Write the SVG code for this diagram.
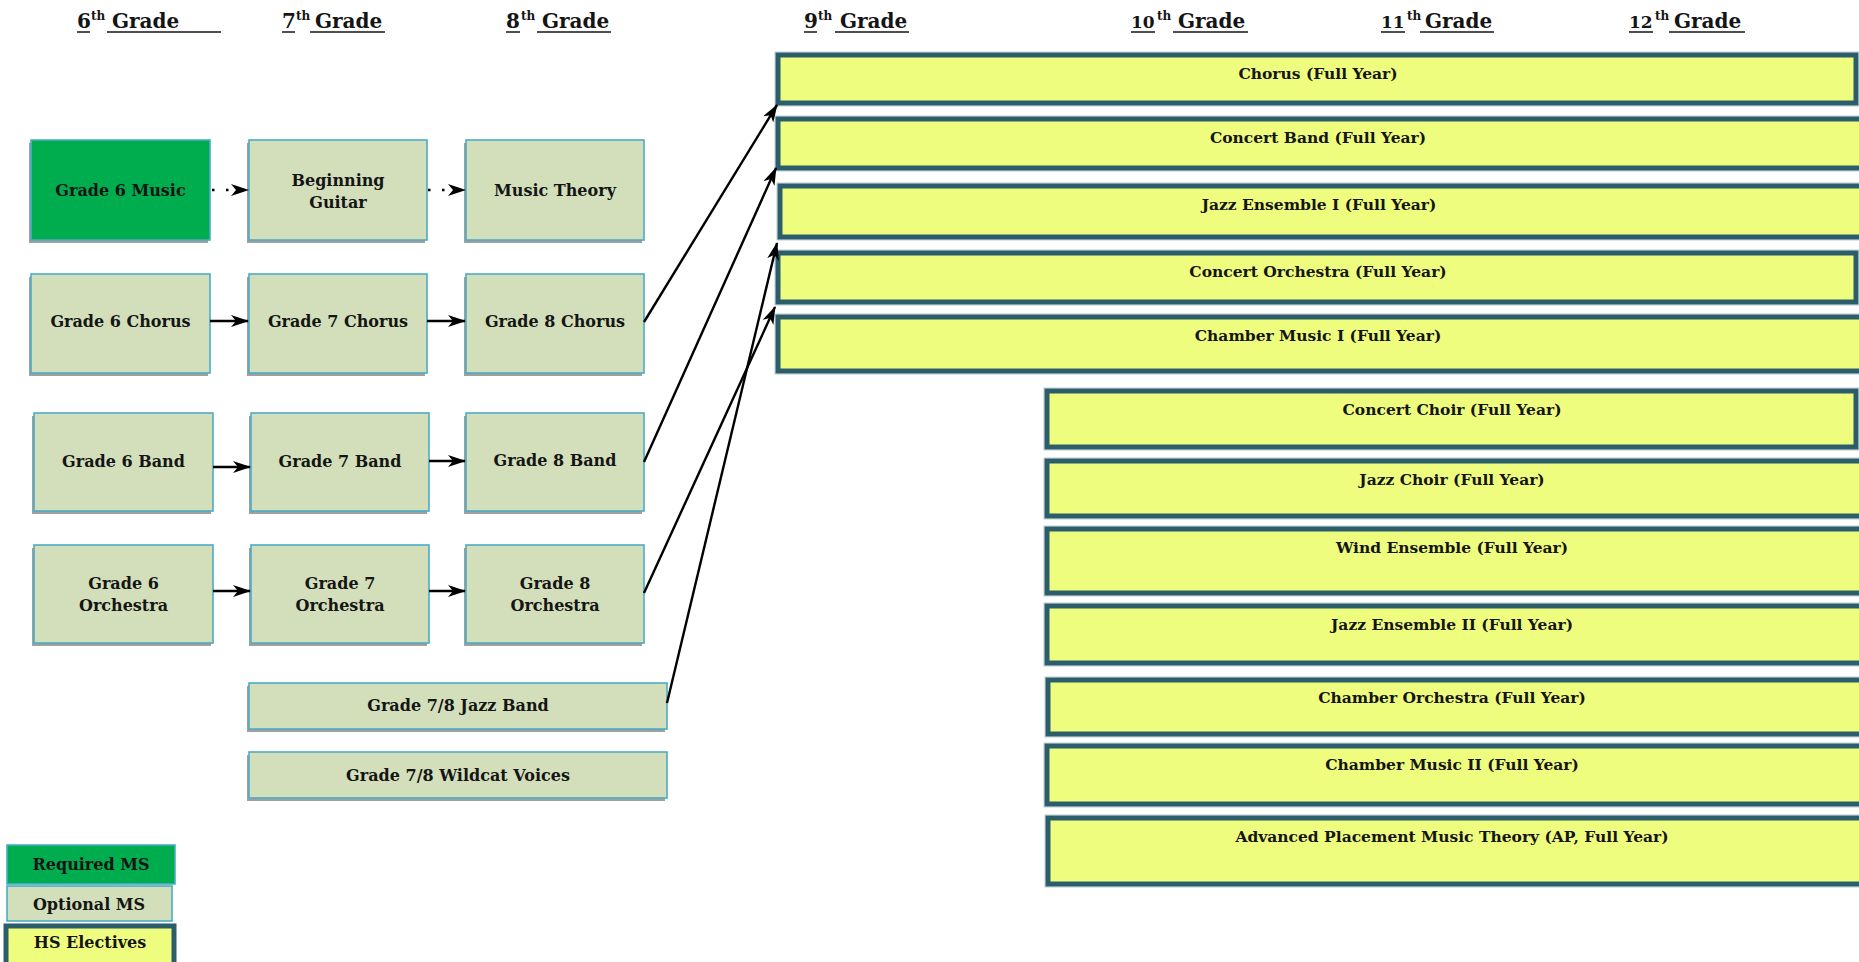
<svg xmlns="http://www.w3.org/2000/svg" width="1859" height="962" viewBox="0 0 1859 962">
<defs>
<style>
.t{font-family:"DejaVu Serif","Liberation Serif",serif;font-weight:bold;fill:#151515;}
.ms{font-size:16px;text-anchor:middle;}
.hs{font-size:15.5px;text-anchor:middle;}
.hd{font-size:20px;}
.hd2{font-size:17px;}
.sup{font-size:12px;}
.ul{stroke:#151515;stroke-width:1.5;}
.sh{fill:#a0a0a0;}
.opt{fill:#d3dfba;stroke:#4bacc6;stroke-width:1.6;}
.req{fill:#00ad4e;stroke:#4bacc6;stroke-width:1.6;}
.hsb{fill:#effd7e;stroke:#2b5d6b;stroke-width:5;}
.halo{fill:none;stroke:#b9ccd2;stroke-width:1;}
.con{stroke:#000;stroke-width:2.4;fill:none;marker-end:url(#ah);}
.dot{stroke:#000;stroke-width:2.6;fill:none;stroke-dasharray:2.5 11.5;marker-end:url(#ah);}
</style>
<marker id="ah" markerUnits="userSpaceOnUse" viewBox="0 0 18 12" markerWidth="18" markerHeight="12" refX="17" refY="6" orient="auto">
<path d="M0,0 L18,6 L0,12 L5,6 Z" fill="#000"/>
</marker>
</defs>
<rect width="1859" height="962" fill="#fff"/>

<g id="headers">
<text class="t hd" y="28"><tspan x="77">6</tspan><tspan class="sup" x="91" y="20">th</tspan><tspan x="112" y="28">Grade</tspan></text>
<line class="ul" x1="77" y1="32" x2="90" y2="32"/><line class="ul" x1="107" y1="32" x2="221" y2="32"/>
<text class="t hd" y="28"><tspan x="282">7</tspan><tspan class="sup" x="296" y="20">th</tspan><tspan x="315" y="28">Grade</tspan></text>
<line class="ul" x1="282" y1="32" x2="295" y2="32"/><line class="ul" x1="310" y1="32" x2="385" y2="32"/>
<text class="t hd" y="28"><tspan x="506">8</tspan><tspan class="sup" x="521" y="20">th</tspan><tspan x="542" y="28">Grade</tspan></text>
<line class="ul" x1="506" y1="32" x2="520" y2="32"/><line class="ul" x1="537" y1="32" x2="611" y2="32"/>
<text class="t hd" y="28"><tspan x="804">9</tspan><tspan class="sup" x="818" y="20">th</tspan><tspan x="840" y="28">Grade</tspan></text>
<line class="ul" x1="804" y1="32" x2="817" y2="32"/><line class="ul" x1="835" y1="32" x2="909" y2="32"/>
<text class="t hd2" x="1131" y="28">10</text>
<text class="t sup" x="1157" y="20">th</text>
<text class="t hd" x="1178" y="28">Grade</text>
<line class="ul" x1="1131" y1="32" x2="1155" y2="32"/><line class="ul" x1="1173" y1="32" x2="1248" y2="32"/>
<text class="t hd2" x="1381" y="28">11</text>
<text class="t sup" x="1407" y="20">th</text>
<text class="t hd" x="1425" y="28">Grade</text>
<line class="ul" x1="1381" y1="32" x2="1405" y2="32"/><line class="ul" x1="1420" y1="32" x2="1494" y2="32"/>
<text class="t hd2" x="1629" y="28">12</text>
<text class="t sup" x="1655" y="20">th</text>
<text class="t hd" x="1674" y="28">Grade</text>
<line class="ul" x1="1629" y1="32" x2="1653" y2="32"/><line class="ul" x1="1669" y1="32" x2="1745" y2="32"/>
</g>

<g id="n-g6music"><rect class="sh" x="29" y="143" width="179" height="100"/><rect class="req" x="31" y="140" width="179" height="100"/><text class="t ms" x="120.5" y="196">Grade 6 Music</text></g>
<g id="n-guitar"><rect class="sh" x="247" y="143" width="178" height="100"/><rect class="opt" x="249" y="140" width="178" height="100"/><text class="t ms" x="338" y="186">Beginning</text><text class="t ms" x="338" y="208">Guitar</text></g>
<g id="n-theory"><rect class="sh" x="464" y="143" width="178" height="100"/><rect class="opt" x="466" y="140" width="178" height="100"/><text class="t ms" x="555" y="196">Music Theory</text></g>

<g id="n-g6chorus"><rect class="sh" x="29" y="277" width="179" height="99"/><rect class="opt" x="31" y="274" width="179" height="99"/><text class="t ms" x="120.5" y="327">Grade 6 Chorus</text></g>
<g id="n-g7chorus"><rect class="sh" x="247" y="277" width="178" height="99"/><rect class="opt" x="249" y="274" width="178" height="99"/><text class="t ms" x="338" y="327">Grade 7 Chorus</text></g>
<g id="n-g8chorus"><rect class="sh" x="464" y="277" width="178" height="99"/><rect class="opt" x="466" y="274" width="178" height="99"/><text class="t ms" x="555" y="327">Grade 8 Chorus</text></g>

<g id="n-g6band"><rect class="sh" x="32" y="416" width="179" height="98"/><rect class="opt" x="34" y="413" width="179" height="98"/><text class="t ms" x="123.5" y="467">Grade 6 Band</text></g>
<g id="n-g7band"><rect class="sh" x="249" y="416" width="178" height="98"/><rect class="opt" x="251" y="413" width="178" height="98"/><text class="t ms" x="340" y="467">Grade 7 Band</text></g>
<g id="n-g8band"><rect class="sh" x="464" y="416" width="178" height="98"/><rect class="opt" x="466" y="413" width="178" height="98"/><text class="t ms" x="555" y="466">Grade 8 Band</text></g>

<g id="n-g6orch"><rect class="sh" x="32" y="548" width="179" height="98"/><rect class="opt" x="34" y="545" width="179" height="98"/><text class="t ms" x="123.5" y="589">Grade 6</text><text class="t ms" x="123.5" y="611">Orchestra</text></g>
<g id="n-g7orch"><rect class="sh" x="249" y="548" width="178" height="98"/><rect class="opt" x="251" y="545" width="178" height="98"/><text class="t ms" x="340" y="589">Grade 7</text><text class="t ms" x="340" y="611">Orchestra</text></g>
<g id="n-g8orch"><rect class="sh" x="464" y="548" width="178" height="98"/><rect class="opt" x="466" y="545" width="178" height="98"/><text class="t ms" x="555" y="589">Grade 8</text><text class="t ms" x="555" y="611">Orchestra</text></g>

<g id="n-jazzband"><rect class="sh" x="247" y="686" width="418" height="46"/><rect class="opt" x="249" y="683" width="418" height="46"/><text class="t ms" x="458" y="711">Grade 7/8 Jazz Band</text></g>
<g id="n-wildcat"><rect class="sh" x="247" y="755" width="418" height="46"/><rect class="opt" x="249" y="752" width="418" height="46"/><text class="t ms" x="458" y="781">Grade 7/8 Wildcat Voices</text></g>

<g id="n-hs-chorus"><rect class="halo" x="775" y="52" width="1090" height="54"/><rect class="hsb" x="778" y="55" width="1078" height="48"/><text class="t hs" x="1318" y="79">Chorus (Full Year)</text></g>
<g id="n-hs-concertband"><rect class="halo" x="775" y="116" width="1090" height="55"/><rect class="hsb" x="778" y="119" width="1084" height="49"/><text class="t hs" x="1318" y="143">Concert Band (Full Year)</text></g>
<g id="n-hs-jazz1"><rect class="halo" x="777" y="183" width="1090" height="57"/><rect class="hsb" x="780" y="186" width="1084" height="51"/><text class="t hs" x="1319" y="210">Jazz Ensemble I (Full Year)</text></g>
<g id="n-hs-concertorch"><rect class="halo" x="775" y="250" width="1090" height="55"/><rect class="hsb" x="778" y="253" width="1078" height="49"/><text class="t hs" x="1318" y="277">Concert Orchestra (Full Year)</text></g>
<g id="n-hs-chamber1"><rect class="halo" x="775" y="314" width="1090" height="60"/><rect class="hsb" x="778" y="317" width="1084" height="54"/><text class="t hs" x="1318" y="341">Chamber Music I (Full Year)</text></g>

<g id="n-hs-concertchoir"><rect class="halo" x="1044" y="388" width="820" height="62"/><rect class="hsb" x="1047" y="391" width="809" height="56"/><text class="t hs" x="1452" y="415">Concert Choir (Full Year)</text></g>
<g id="n-hs-jazzchoir"><rect class="halo" x="1044" y="458" width="820" height="61"/><rect class="hsb" x="1047" y="461" width="815" height="55"/><text class="t hs" x="1452" y="485">Jazz Choir (Full Year)</text></g>
<g id="n-hs-wind"><rect class="halo" x="1044" y="526" width="820" height="70"/><rect class="hsb" x="1047" y="529" width="815" height="64"/><text class="t hs" x="1452" y="553">Wind Ensemble (Full Year)</text></g>
<g id="n-hs-jazz2"><rect class="halo" x="1044" y="603" width="820" height="63"/><rect class="hsb" x="1047" y="606" width="815" height="57"/><text class="t hs" x="1452" y="630">Jazz Ensemble II (Full Year)</text></g>
<g id="n-hs-chamberorch"><rect class="halo" x="1045" y="677" width="820" height="60"/><rect class="hsb" x="1048" y="680" width="814" height="54"/><text class="t hs" x="1452" y="703">Chamber Orchestra (Full Year)</text></g>
<g id="n-hs-chamber2"><rect class="halo" x="1044" y="743" width="820" height="64"/><rect class="hsb" x="1047" y="746" width="815" height="58"/><text class="t hs" x="1452" y="770">Chamber Music II (Full Year)</text></g>
<g id="n-hs-ap"><rect class="halo" x="1045" y="815" width="820" height="72"/><rect class="hsb" x="1048" y="818" width="814" height="66"/><text class="t hs" x="1452" y="842">Advanced Placement Music Theory (AP, Full Year)</text></g>

<g id="connectors">
<line class="dot" x1="212" y1="190" x2="248" y2="190"/>
<line class="dot" x1="428" y1="190" x2="465" y2="190"/>
<line class="con" x1="210" y1="321" x2="248" y2="321"/>
<line class="con" x1="427" y1="321" x2="465" y2="321"/>
<line class="con" x1="213" y1="467" x2="250" y2="467"/>
<line class="con" x1="429" y1="461" x2="465" y2="461"/>
<line class="con" x1="213" y1="591" x2="250" y2="591"/>
<line class="con" x1="429" y1="591" x2="465" y2="591"/>
<line class="con" x1="644" y1="322" x2="777" y2="105"/>
<line class="con" x1="644" y1="462" x2="776" y2="168"/>
<line class="con" x1="644" y1="593" x2="775" y2="307"/>
<line class="con" x1="667" y1="703" x2="777" y2="243"/>
</g>

<g id="legend">
<g id="lg-req"><rect class="req" x="7" y="845" width="168" height="39"/><text class="t ms" x="91" y="870">Required MS</text></g>
<g id="lg-opt"><rect class="opt" x="7" y="886" width="165" height="35"/><text class="t ms" x="89" y="910">Optional MS</text></g>
<g id="lg-hs"><rect class="hsb" x="6" y="926" width="168" height="45"/><text class="t ms" x="90" y="948">HS Electives</text></g>
</g>
</svg>
